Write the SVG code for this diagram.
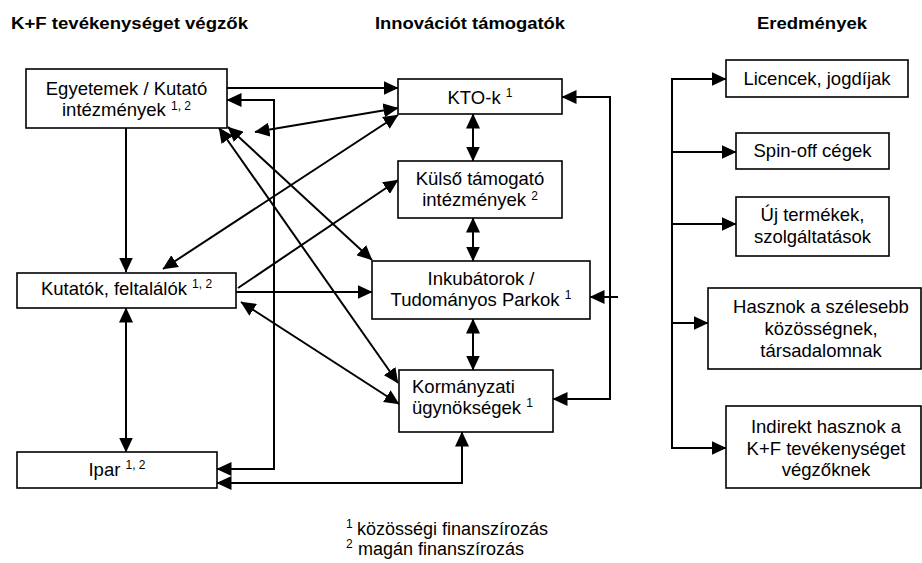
<svg xmlns="http://www.w3.org/2000/svg" width="922" height="563" viewBox="0 0 922 563">
<style>
.box{fill:#fff;stroke:#000;stroke-width:1.6}
.t{font-family:"Liberation Sans",Arial,sans-serif;font-size:18.5px;fill:#000}
.h{font-family:"Liberation Sans",Arial,sans-serif;font-size:16px;font-weight:bold;fill:#000}
.fn{font-size:18px}
.c{text-anchor:middle}
.sup{font-size:12px}
.ln{fill:none;stroke:#000;stroke-width:2}
.s{marker-start:url(#ah)}
.e{marker-end:url(#ah)}
</style>
<defs>
<marker id="ah" markerUnits="userSpaceOnUse" markerWidth="15" markerHeight="14" refX="14.5" refY="7" orient="auto-start-reverse" viewBox="0 0 15 14">
<path d="M0,0 L15,7 L0,14 z" fill="#000"/>
</marker>
</defs>
<g id="headers">
<text class="h" x="11" y="29" textLength="237" lengthAdjust="spacingAndGlyphs">K+F tevékenységet végzők</text>
<text class="h" x="375" y="29" textLength="190" lengthAdjust="spacingAndGlyphs">Innovációt támogatók</text>
<text class="h" x="757" y="29" textLength="110" lengthAdjust="spacingAndGlyphs">Eredmények</text>
</g>
<g id="connectors">
<path class="ln e" d="M227,88 H398"/>
<path class="ln s e" d="M255,132 L398,108"/>
<path class="ln s e" d="M163,269 L398,115"/>
<path class="ln s e" d="M219,128 L398,383"/>
<path class="ln s e" d="M228,127 L372,260"/>
<path class="ln s e" d="M227,100 H274 V469 H217"/>
<path class="ln e" d="M126,128 V272"/>
<path class="ln s e" d="M126,308 V452"/>
<path class="ln e" d="M238,288 L398,180"/>
<path class="ln e" d="M236,292 H372"/>
<path class="ln s e" d="M241,302 L399,404"/>
<path class="ln s e" d="M473,114 V161"/>
<path class="ln s e" d="M473,218 V261"/>
<path class="ln s e" d="M473,319 V370"/>
<path class="ln s e" d="M562,97 H610 V399 H553"/>
<path class="ln e" d="M618,297 H590"/>
<path class="ln s e" d="M217,483 H462 V432"/>
<path class="ln" d="M672,78 V449"/>
<path class="ln e" d="M672,79 H726"/>
<path class="ln e" d="M672,152 H736"/>
<path class="ln e" d="M672,224 H736"/>
<path class="ln e" d="M672,323 H708"/>
<path class="ln e" d="M672,448 H726"/>
</g>
<g id="egyetemek">
<rect class="box" x="26" y="69" width="201" height="59"/>
<text class="t c" x="126.5" y="95">Egyetemek / Kutató<tspan x="126.5" dy="21">intézmények <tspan class="sup" dy="-6">1, 2</tspan></tspan></text>
</g>
<g id="kutatok">
<rect class="box" x="17" y="273" width="219" height="35"/>
<text class="t c" x="126.5" y="295">Kutatók, feltalálók <tspan class="sup" dy="-7">1, 2</tspan></text>
</g>
<g id="ipar">
<rect class="box" x="17" y="452" width="200" height="36"/>
<text class="t c" x="117" y="476">Ipar <tspan class="sup" dy="-7">1, 2</tspan></text>
</g>
<g id="kto">
<rect class="box" x="398" y="79" width="164" height="35"/>
<text class="t c" x="480" y="104">KTO-k <tspan class="sup" dy="-7">1</tspan></text>
</g>
<g id="kulso">
<rect class="box" x="398" y="161" width="164" height="57"/>
<text class="t c" x="480" y="184.5">Külső támogató<tspan x="480" dy="21">intézmények <tspan class="sup" dy="-6">2</tspan></tspan></text>
</g>
<g id="inkubatorok">
<rect class="box" x="372" y="261" width="218" height="58"/>
<text class="t c" x="481" y="285">Inkubátorok /<tspan x="481" dy="21">Tudományos Parkok <tspan class="sup" dy="-7">1</tspan></tspan></text>
</g>
<g id="kormanyzati">
<rect class="box" x="399" y="370" width="154" height="62"/>
<text class="t" x="412" y="393">Kormányzati<tspan x="412" dy="21">ügynökségek <tspan class="sup" dy="-7">1</tspan></tspan></text>
</g>
<g id="licencek">
<rect class="box" x="726" y="60" width="182" height="37"/>
<text class="t c" x="817" y="85">Licencek, jogdíjak</text>
</g>
<g id="spinoff">
<rect class="box" x="736" y="133" width="153" height="36"/>
<text class="t c" x="812.5" y="156.5">Spin-off cégek</text>
</g>
<g id="uj">
<rect class="box" x="736" y="197" width="153" height="59"/>
<text class="t c" x="812.5" y="221">Új termékek,<tspan x="812.5" dy="22">szolgáltatások</tspan></text>
</g>
<g id="hasznok">
<rect class="box" x="708" y="288" width="213" height="81"/>
<text class="t c" x="821" y="313">Hasznok a szélesebb<tspan x="821" dy="22">közösségnek,</tspan><tspan x="821" dy="21.5">társadalomnak</tspan></text>
</g>
<g id="indirekt">
<rect class="box" x="726" y="406" width="195" height="82"/>
<text class="t c" x="826" y="432.5">Indirekt hasznok a<tspan x="826" dy="22.5">K+F tevékenységet</tspan><tspan x="826" dy="21">végzőknek</tspan></text>
</g>
<g id="footnote">
<text class="t fn" x="346" y="528"><tspan class="sup">1</tspan><tspan x="357" dy="7">közösségi finanszírozás</tspan><tspan class="sup" x="346" dy="13">2</tspan><tspan x="358" dy="7">magán finanszírozás</tspan></text>
</g>
</svg>
